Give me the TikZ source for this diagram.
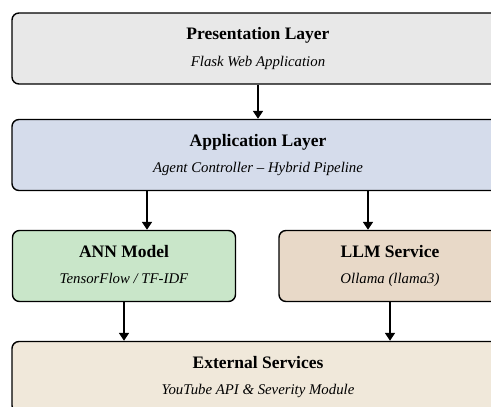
\documentclass[tikz,border=0pt]{standalone}
\usepackage{fontspec}
\setmainfont{Liberation Serif}
\usetikzlibrary{arrows.meta,positioning}
\definecolor{presfill}{RGB}{232,232,232}
\definecolor{appfill}{RGB}{213,220,235}
\definecolor{annfill}{RGB}{201,230,201}
\definecolor{llmfill}{RGB}{232,217,200}
\definecolor{extfill}{RGB}{240,232,218}
\newcommand{\layertext}[2]{{\fontsize{17.5}{20}\selectfont\bfseries\strut #1}\\[7.5pt]{\fontsize{14.8}{17}\selectfont\itshape\strut #2}}
\tikzset{layer/.style={draw,line width=1.4pt,rounded corners=7pt,align=center,minimum height=71pt,inner sep=0pt},
  arr/.style={-{Triangle[length=8pt,width=10pt]},line width=1.6pt}}
\begin{document}
\begin{tikzpicture}[x=1pt,y=-1pt]
\useasboundingbox (0,0) rectangle (491,407);
\clip (0,0) rectangle (491,407);
\node[layer,fill=presfill,minimum width=492pt] (pres) at (258,48.5){\layertext{Presentation Layer}{Flask Web Application}};
\node[layer,fill=appfill,minimum width=492pt] (app) at (258,155){\layertext{Application Layer}{Agent Controller -- Hybrid Pipeline}};
\node[layer,fill=annfill,minimum width=223pt] (ann) at (124,266){\layertext{ANN Model}{TensorFlow / TF-IDF}};
\node[layer,fill=llmfill,minimum width=222pt] (llm) at (390,266){\layertext{LLM Service}{Ollama (llama3)}};
\node[layer,fill=extfill,minimum width=492pt] (ext) at (258,377){\layertext{External Services}{YouTube API \& Severity Module}};
\draw[arr] (pres) -- (app);
\draw[arr] ([xshift=23pt]ann.north |- app.south) -- ([xshift=23pt]ann.north);
\draw[arr] ([xshift=-22pt]llm.north |- app.south) -- ([xshift=-22pt]llm.north);
\draw[arr] (ann) -- (ann |- ext.north);
\draw[arr] (llm) -- (llm |- ext.north);
\end{tikzpicture}
\end{document}
